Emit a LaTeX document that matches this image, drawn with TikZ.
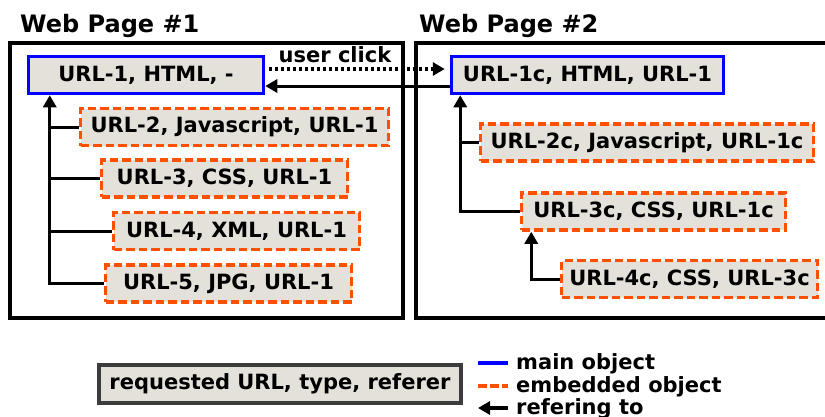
\documentclass[tikz,border=0pt]{standalone}
\usepackage{fontspec}
\setmainfont{DejaVu Sans}
\usetikzlibrary{arrows.meta}
\definecolor{boxfill}{RGB}{227,225,218}
\definecolor{mainblue}{RGB}{0,0,255}
\definecolor{embor}{RGB}{255,80,0}
\definecolor{legdark}{RGB}{60,60,60}
\begin{document}
\begin{tikzpicture}[x=1pt,y=-1pt,
  txt/.style={font=\fontsize{21}{23}\selectfont\bfseries},
  ttl/.style={font=\fontsize{24}{26}\selectfont\bfseries},
  obj/.style={txt,fill=boxfill,inner sep=0pt,minimum height=37pt},
  mainobj/.style={obj,draw=mainblue,line width=3.5pt},
  embobj/.style={obj,draw=embor,line width=3.5pt,dash pattern=on 8.5pt off 4pt},
  page/.style={draw=black,line width=4pt},
  conn/.style={draw=black,line width=3pt},
  arr/.style={conn,-{Triangle[width=13pt,length=12pt]}},
]
\useasboundingbox (0,0) rectangle (825,416);
\fill[white] (0,0) rectangle (825,416);

% pages
\draw[page] (10,43) rectangle (403,318);
\draw[page] (416,43) rectangle (836,318);
\node[ttl,anchor=base west,inner sep=0pt] (t1) at (20,32) {Web Page \#1};
\node[ttl,anchor=base west,inner sep=0pt] (t2) at (419,32) {Web Page \#2};

% page 1 objects
\node[mainobj,minimum width=235pt] (u1) at (146,75) {URL-1, HTML, -};
\node[embobj,minimum width=308pt] (u2) at (234.5,127) {URL-2, Javascript, URL-1};
\node[embobj,minimum width=246pt] (u3) at (224.5,178.5) {URL-3, CSS, URL-1};
\node[embobj,minimum width=246pt] (u4) at (236.5,231) {URL-4, XML, URL-1};
\node[embobj,minimum width=246pt] (u5) at (228.5,283.5) {URL-5, JPG, URL-1};

\coordinate (k1) at ([xshift=23pt]u1.south west);
\draw[arr] (u5.west) -| (k1);
\draw[conn] (u2.west) -- (u2.west -| k1);
\draw[conn] (u3.west) -- (u3.west -| k1);
\draw[conn] (u4.west) -- (u4.west -| k1);

% page 2 objects
\node[mainobj,minimum width=272pt] (v1) at (587.5,75) {URL-1c, HTML, URL-1};
\node[embobj,minimum width=333pt] (v2) at (647,142.5) {URL-2c, Javascript, URL-1c};
\node[embobj,minimum width=264pt] (v3) at (653.5,211.5) {URL-3c, CSS, URL-1c};
\node[embobj,minimum width=256pt] (v4) at (689.5,279) {URL-4c, CSS, URL-3c};

\coordinate (k2) at ([xshift=10.5pt]v1.south west);
\draw[arr] (v3.west) -| (k2);
\draw[conn] (v2.west) -- (v2.west -| k2);
\coordinate (k3) at ([xshift=11.5pt]v3.south west);
\draw[arr] (v4.west) -| (k3);

% between pages
\draw[conn,line width=3.5pt,dash pattern=on 3pt off 3pt,-{Triangle[width=13pt,length=12pt]},shorten <=4pt,shorten >=5pt]
  ([yshift=6pt]u1.east) -- ([yshift=6pt]v1.west);
\draw[arr] ([yshift=-11pt]v1.west) -- ([yshift=-11pt]u1.east);
\node[txt,anchor=base,inner sep=0pt] (uc) at (335,62) {user click};

% legend
\node[txt,fill=boxfill,draw=legdark,line width=4.5pt,inner sep=0pt,minimum width=362pt,minimum height=38pt] (lg) at (280,384) {requested URL, type, referer};
\node[txt,anchor=base west,inner sep=0pt] (l1) at (516,369) {main object};
\node[txt,anchor=base west,inner sep=0pt] (l2) at (516,392) {embedded object};
\node[txt,anchor=base west,inner sep=0pt] (l3) at (516,414) {refering to};
\coordinate (a1) at (478,363); \coordinate (b1) at (508,363);
\coordinate (a2) at (478,386); \coordinate (b2) at (508,386);
\coordinate (a3) at (478,408); \coordinate (b3) at (508,408);
\draw[draw=mainblue,line width=4.5pt] (a1) -- (b1);
\draw[draw=embor,line width=4.5pt,dash pattern=on 9pt off 3pt] (a2) -- (b2);
\draw[arr,line width=3.5pt] (b3) -- (a3);
\end{tikzpicture}
\end{document}
